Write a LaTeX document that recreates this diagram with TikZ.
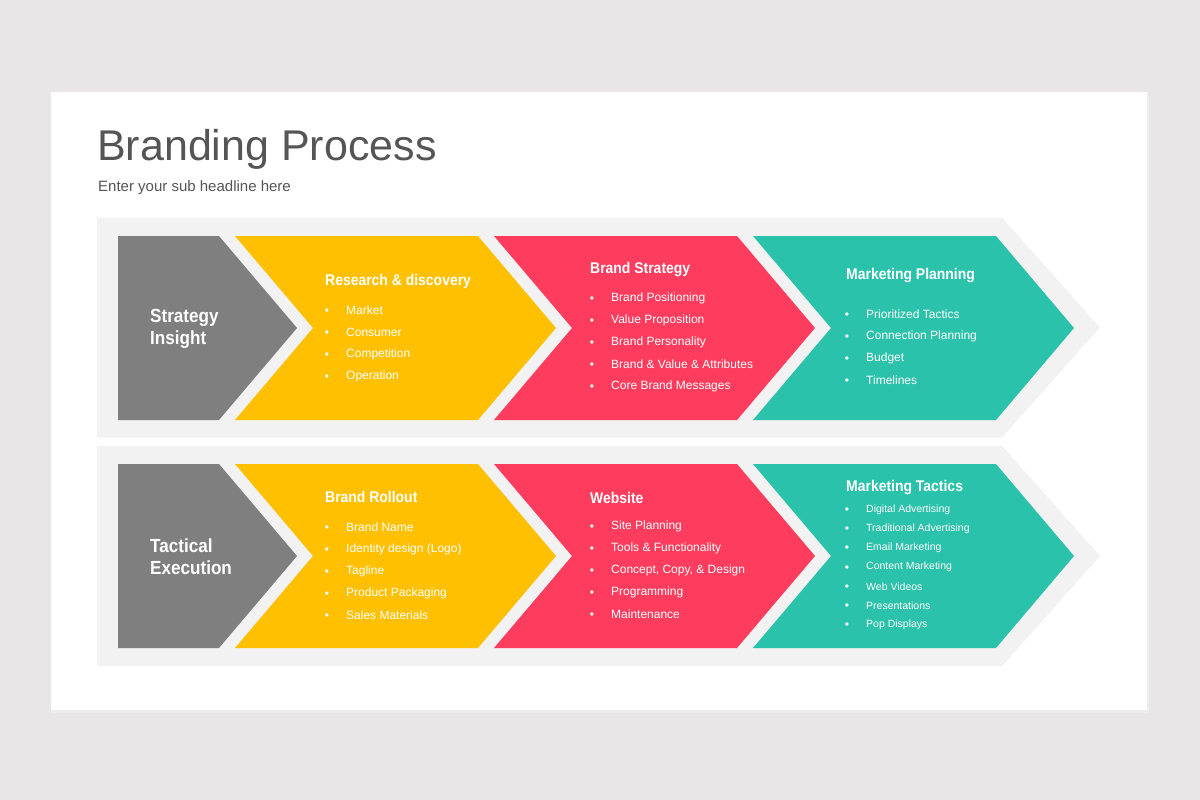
\documentclass[tikz,border=0pt]{standalone}
\usepackage{fontspec}
\setmainfont{Liberation Sans}
\newfontfamily\headfont[FakeStretch=0.9]{Liberation Sans Bold}
\definecolor{pagebg}{HTML}{E8E6E7}
\definecolor{bandc}{HTML}{F2F2F2}
\definecolor{grayc}{HTML}{7F7F7F}
\definecolor{yellowc}{HTML}{FEC000}
\definecolor{redc}{HTML}{FE3C5D}
\definecolor{tealc}{HTML}{2BC2AB}
\definecolor{textc}{HTML}{555555}
\newcommand\mychev[3]{%
  \fill[#3] (#1,#2-92) -- ++(243,0) -- ++(78,92) -- ++(-78,92) -- ++(-243,0) -- ++(78,-92) -- cycle;}
\newcommand\myband[1]{%
  \fill[bandc] (97,#1-110) -- (1002,#1-110) -- (1100,#1) -- (1002,#1+110) -- (97,#1+110) -- cycle;}
\tikzset{
  head/.style={anchor=west, inner sep=0pt, text=white, font=\headfont\fontsize{15.5}{18}\selectfont},
  item/.style={anchor=west, inner sep=0pt, text=white, font=\fontsize{12}{14}\selectfont},
  smallitem/.style={anchor=west, inner sep=0pt, text=white, font=\fontsize{10.5}{12}\selectfont},
  bul/.style={anchor=center, inner sep=0pt, text=white, font=\fontsize{12}{12}\selectfont},
  side/.style={anchor=west, inner sep=0pt, text=white, align=left, font=\headfont\fontsize{19}{22}\selectfont},
}
\begin{document}
\begin{tikzpicture}[x=1pt,y=-1pt]
\useasboundingbox (0,0) rectangle (1200,800);
\fill[pagebg] (0,0) rectangle (1200,800);
% card with soft shadow
\fill[black!7] (52,93) rectangle (1149,713);
\fill[white] (51,92) rectangle (1147,710);
% title
\node[anchor=base west, inner sep=0pt, text=textc, font=\fontsize{43}{48}\selectfont] (title) at (97,160) {Branding Process};
\node[anchor=base west, inner sep=0pt, text=textc, font=\fontsize{15}{18}\selectfont] (sub) at (98,191) {Enter your sub headline here};
% bands
\myband{327.5}
\myband{556}
% row 1 shapes
\fill[grayc] (118,236) -- (219,236) -- (297,328) -- (219,420) -- (118,420) -- cycle;
\mychev{235}{328}{yellowc}
\mychev{494}{328}{redc}
\mychev{753}{328}{tealc}
% row 2 shapes
\fill[grayc] (118,464) -- (219,464) -- (297,556) -- (219,648) -- (118,648) -- cycle;
\mychev{235}{556}{yellowc}
\mychev{494}{556}{redc}
\mychev{753}{556}{tealc}
% row 1 texts
\node[side] (s1) at (150,329) {Strategy\\Insight};
\node[head] (h11) at (325,281) {Research \& discovery};
\foreach \t [count=\i] in {Market,Consumer,Competition,Operation}{
  \node[bul] (b11\i) at (327,289.5+22*\i) {•};
  \node[item] (i11\i) at (346,288.5+22*\i) {\t};
}
\node[head] (h12) at (590,270) {Brand Strategy};
\foreach \t [count=\i] in {Brand Positioning,Value Proposition,Brand Personality,Brand \& Value \& Attributes,Core Brand Messages}{
  \node[bul] (b12\i) at (592,277.5+22*\i) {•};
  \node[item] (i12\i) at (611,276.5+22*\i) {\t};
}
\node[head] (h13) at (846,276) {Marketing Planning};
\foreach \t [count=\i] in {Prioritized Tactics,Connection Planning,Budget,Timelines}{
  \node[bul] (b13\i) at (847,293.5+22*\i) {•};
  \node[item] (i13\i) at (866,292.5+22*\i) {\t};
}
% row 2 texts
\node[side] (s2) at (150,557) {Tactical\\Execution};
\node[head] (h21) at (325,497) {Brand Rollout};
\foreach \t [count=\i] in {Brand Name,Identity design (Logo),Tagline,Product Packaging,Sales Materials}{
  \node[bul] (b21\i) at (327,506.5+22*\i) {•};
  \node[item] (i21\i) at (346,505.5+22*\i) {\t};
}
\node[head] (h22) at (590,498) {Website};
\foreach \t [count=\i] in {Site Planning,Tools \& Functionality,{Concept, Copy, \& Design},Programming,Maintenance}{
  \node[bul] (b22\i) at (592,505.5+22*\i) {•};
  \node[item] (i22\i) at (611,504.5+22*\i) {\t};
}
\node[head] (h23) at (846,488) {Marketing Tactics};
\foreach \t [count=\i] in {Digital Advertising,Traditional Advertising,Email Marketing,Content Marketing,Web Videos,Presentations,Pop Displays}{
  \node[bul] (b23\i) at (847,491+19.3*\i) {•};
  \node[smallitem] (i23\i) at (866,490+19.3*\i) {\t};
}
\end{tikzpicture}
\end{document}
